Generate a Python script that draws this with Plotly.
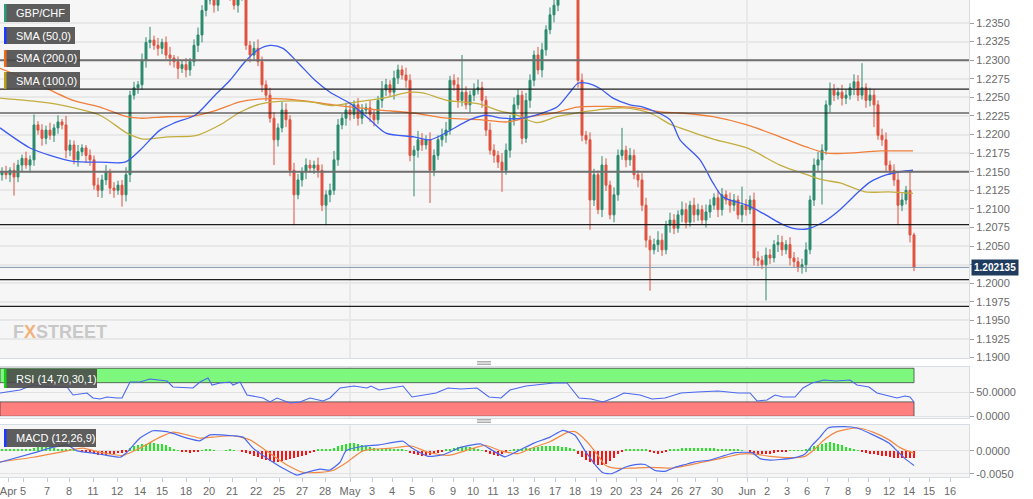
import plotly.graph_objects as go

# ---------------- data ----------------
closes = [
    1.2150, 1.2146, 1.2152, 1.2143, 1.2159, 1.2168, 1.2159, 1.2166, 1.2213, 1.2206,
    1.2195, 1.2206, 1.2199, 1.2209, 1.2217, 1.2213, 1.2179, 1.2186, 1.2166, 1.2177,
    1.2182, 1.2172, 1.2166, 1.2132, 1.2125, 1.2139, 1.2150, 1.2128, 1.2125, 1.2132,
    1.2119, 1.2146, 1.2253, 1.2263, 1.2267, 1.2300, 1.2324, 1.2327, 1.2320, 1.2316,
    1.2324, 1.2307, 1.2303, 1.2298, 1.2289, 1.2294, 1.2287, 1.2298, 1.2320, 1.2334,
    1.2367, 1.2381, 1.2394, 1.2374, 1.2388, 1.2401, 1.2394, 1.2388, 1.2374, 1.2388,
    1.2394, 1.2320, 1.2307, 1.2316, 1.2298, 1.2267, 1.2253, 1.2222, 1.2193, 1.2209,
    1.2233, 1.2220, 1.2152, 1.2119, 1.2139, 1.2150, 1.2159, 1.2155, 1.2159, 1.2152,
    1.2105, 1.2119, 1.2125, 1.2166, 1.2213, 1.2222, 1.2233, 1.2227, 1.2240, 1.2222,
    1.2233, 1.2236, 1.2227, 1.2220, 1.2246, 1.2260, 1.2267, 1.2257, 1.2276, 1.2287,
    1.2280, 1.2273, 1.2172, 1.2179, 1.2193, 1.2186, 1.2193, 1.2152, 1.2172, 1.2193,
    1.2199, 1.2206, 1.2273, 1.2267, 1.2246, 1.2257, 1.2240, 1.2253, 1.2260, 1.2263,
    1.2246, 1.2206, 1.2179, 1.2172, 1.2163, 1.2152, 1.2179, 1.2220, 1.2240, 1.2253,
    1.2195, 1.2246, 1.2273, 1.2307, 1.2287, 1.2314, 1.2341, 1.2361, 1.2374, 1.2388,
    1.2394, 1.2401, 1.2394, 1.2388, 1.2273, 1.2199, 1.2193, 1.2112, 1.2146, 1.2099,
    1.2159, 1.2132, 1.2092, 1.2119, 1.2172, 1.2179, 1.2166, 1.2172, 1.2146, 1.2139,
    1.2105, 1.2058, 1.2045, 1.2052, 1.2058, 1.2045, 1.2078, 1.2085, 1.2074, 1.2092,
    1.2099, 1.2082, 1.2105, 1.2092, 1.2099, 1.2085, 1.2096, 1.2105, 1.2115, 1.2099,
    1.2119, 1.2112, 1.2105, 1.2112, 1.2092, 1.2105, 1.2099, 1.2112, 1.2034, 1.2031,
    1.2025, 1.2038, 1.2034, 1.2052, 1.2055, 1.2045, 1.2052, 1.2034, 1.2029, 1.2021,
    1.2025, 1.2045, 1.2112, 1.2159, 1.2166, 1.2179, 1.2240, 1.2260, 1.2253, 1.2257,
    1.2249, 1.2253, 1.2263, 1.2271, 1.2253, 1.2263, 1.2246, 1.2253, 1.2240, 1.2199,
    1.2193, 1.2159, 1.2152, 1.2139, 1.2105, 1.2112, 1.2125, 1.2065, 1.202135,
]
first_open = 1.2146

upper_wick_pips = [
    6, 8, 4, 10, 7, 5, 9, 6, 14, 5,
    8, 6, 10, 5, 9, 4, 12, 7, 6, 9,
    5, 4, 8, 6, 10, 7, 9, 4, 8, 6,
    7, 10, 6, 8, 5, 9, 7, 18, 6, 10,
    5, 8, 11, 4, 7, 6, 9, 5, 8, 10,
    7, 9, 6, 8, 5, 7, 6, 10, 7, 6,
    8, 10, 6, 9, 12, 7, 6, 10, 8, 6,
    11, 9, 6, 10, 8, 6, 9, 7, 6, 10,
    8, 6, 9, 12, 8, 6, 10, 7, 6, 9,
    8, 6, 10, 7, 6, 12, 8, 6, 10, 7,
    6, 10, 8, 6, 12, 9, 6, 10, 8, 6,
    9, 11, 6, 8, 10, 50, 8, 6, 9, 11,
    8, 6, 10, 8, 6, 12, 9, 6, 10, 8,
    6, 10, 8, 6, 11, 9, 6, 10, 8, 6,
    8, 10, 6, 8, 12, 9, 6, 10, 8, 6,
    12, 9, 6, 10, 8, 30, 6, 10, 8, 6,
    9, 10, 6, 8, 12, 9, 6, 10, 8, 6,
    11, 9, 6, 10, 8, 6, 10, 8, 6, 10,
    9, 6, 10, 8, 6, 25, 8, 6, 10, 9,
    6, 10, 8, 6, 10, 9, 6, 10, 8, 6,
    8, 10, 6, 9, 11, 8, 6, 10, 8, 6,
    10, 8, 6, 10, 9, 33, 6, 10, 8, 6,
    9, 10, 6, 8, 10, 9, 6, 25, 3,
]
lower_wick_pips = [
    8, 6, 10, 25, 7, 9, 5, 10, 8, 6,
    10, 8, 6, 9, 8, 6, 11, 8, 6, 9,
    6, 10, 8, 6, 9, 10, 7, 8, 10, 6,
    16, 9, 10, 6, 8, 7, 10, 8, 6, 10,
    8, 6, 10, 8, 14, 6, 10, 8, 6, 9,
    10, 8, 6, 10, 8, 6, 10, 8, 6, 10,
    8, 6, 10, 8, 6, 10, 8, 6, 34, 9,
    6, 10, 8, 41, 6, 9, 10, 6, 8, 10,
    8, 27, 10, 6, 8, 6, 10, 8, 6, 10,
    8, 6, 10, 9, 6, 10, 8, 6, 10, 8,
    6, 10, 8, 55, 10, 8, 6, 44, 8, 6,
    9, 10, 6, 8, 10, 8, 6, 10, 8, 6,
    10, 8, 6, 10, 8, 29, 6, 10, 8, 6,
    8, 6, 10, 8, 6, 10, 8, 6, 10, 8,
    6, 10, 8, 6, 10, 8, 6, 40, 8, 6,
    10, 8, 6, 10, 8, 6, 10, 8, 6, 10,
    8, 10, 55, 6, 10, 8, 6, 10, 8, 6,
    10, 8, 6, 10, 8, 6, 10, 8, 6, 10,
    8, 6, 10, 8, 6, 10, 8, 6, 10, 8,
    6, 48, 8, 6, 10, 8, 6, 10, 8, 6,
    8, 10, 6, 8, 8, 60, 6, 10, 8, 6,
    10, 8, 6, 10, 8, 6, 10, 8, 30, 6,
    8, 10, 6, 8, 27, 8, 6, 10, 5,
]

# moving averages (candle index, price)
sma50_x = [-0.5, 7, 12, 17.75, 24.5, 30.75, 34.5, 39.5, 43.25, 48.25, 53.25, 57, 60.75, 64, 67,
           70.25, 73.75, 78.25, 82, 87, 92, 96, 103, 107, 117, 121, 125, 130, 135, 138.75, 142,
           144, 146.5, 149.5, 152.75, 157, 160.25, 167, 169.5, 174.5, 177.75, 180.25, 186.25,
           190.25, 194.5, 197.75, 201.25, 205.25, 209.5, 213.75, 217, 221.25, 224.5, 227.75]
sma50_y = [1.2209, 1.2182, 1.2172, 1.2164, 1.2163, 1.2163, 1.2179, 1.2206, 1.2216, 1.2226, 1.2253,
           1.2273, 1.2298, 1.2314, 1.2320, 1.2316, 1.2298, 1.2273, 1.2257, 1.2242, 1.2220, 1.2202,
           1.2197, 1.2193, 1.2220, 1.2226, 1.2222, 1.2222, 1.2229, 1.2237, 1.2257, 1.2269, 1.2269,
           1.2262, 1.2249, 1.2240, 1.2237, 1.2220, 1.2193, 1.2166, 1.2135, 1.2116, 1.2105, 1.2094,
           1.2081, 1.2074, 1.2073, 1.2082, 1.2099, 1.2121, 1.2136, 1.2146, 1.2150, 1.2152]
sma200_x = [-0.5, 7.75, 17.75, 24.5, 31.25, 34.5, 41.25, 47.75, 53.75, 59.5, 65.25, 70.25, 76.25,
            82.75, 94.5, 102.75, 111.25, 119.5, 126.25, 132, 138.75, 143.75, 148.75, 157, 165.25,
            169.5, 177.75, 186.25, 194.5, 201.25, 206.25, 211.25, 219.5, 227.75]
sma200_y = [1.2289, 1.2271, 1.2246, 1.2237, 1.2224, 1.2222, 1.2224, 1.2225, 1.2233, 1.2244, 1.2248,
            1.2248, 1.2245, 1.2240, 1.2233, 1.2229, 1.2222, 1.2220, 1.2217, 1.2224, 1.2230, 1.2237,
            1.2238, 1.2237, 1.2230, 1.2229, 1.2224, 1.2213, 1.2197, 1.2183, 1.2175, 1.2175, 1.2178,
            1.2178]
sma100_x = [-0.5, 9.5, 14.5, 24.5, 31.25, 35.25, 41.25, 48.75, 54.5, 59.5, 64.5, 70.25, 77, 82.75,
            88.75, 95.25, 102, 105.25, 111.25, 119.5, 123.75, 128.75, 133.75, 138.75, 144.5,
            148.75, 155.25, 162, 167, 169.5, 177.75, 186.25, 194.5, 201.25, 205.25, 209.5, 215.75,
            221.75, 227.75]
sma100_y = [1.2249, 1.2244, 1.2240, 1.2226, 1.2202, 1.2194, 1.2197, 1.2199, 1.2213, 1.2230, 1.2241,
            1.2245, 1.2244, 1.2239, 1.2244, 1.2249, 1.2257, 1.2256, 1.2246, 1.2241, 1.2233, 1.2226,
            1.2216, 1.2224, 1.2230, 1.2233, 1.2236, 1.2229, 1.2214, 1.2209, 1.2194, 1.2182, 1.2159,
            1.2146, 1.2139, 1.2135, 1.2123, 1.2123, 1.2121]

# RSI (14)
rsi_x = [-0.5, 4.5, 7.75, 12, 16.25, 17.75, 21.25, 22.75, 24.5, 26.25,
         28.75, 30, 32, 34.5, 37, 41.25, 42.75, 47.75, 49.5, 51.5,
         52.5, 54.5, 57, 57.75, 59.5, 61.25, 65.25, 67, 68.75, 72,
         74.5, 77, 80.25, 82, 84.5, 88, 91.25, 92.25, 94.25, 97.25,
         100.25, 102.5, 105.5, 108.5, 111.5, 114.75, 118.75, 121.75, 124.75, 127,
         131, 135, 138, 141.25, 144.25, 147.25, 150.25, 153.5, 155.5, 159.5,
         162.5, 165.75, 169.75, 173.75, 179, 184, 187, 188.75, 191.25, 193.25,
         195.25, 198.25, 200.25, 202.5, 205.5, 208.5, 212, 213.75, 216.75, 218.75,
         221.75, 223.75, 225.75, 227, 228]
rsi_y = [48.5, 54.8, 65.2, 61.0, 61.0, 44.4, 48.5, 38.1, 36.0, 40.2,
         38.1, 38.1, 71.5, 71.5, 77.7, 73.5, 61.0, 59.0, 71.5, 79.8,
         65.2, 69.4, 71.5, 65.2, 71.5, 44.4, 38.1, 29.8, 38.1, 27.7,
         29.8, 38.1, 31.9, 38.1, 59.0, 63.1, 59.0, 63.1, 54.8, 59.0,
         63.1, 40.2, 44.4, 48.5, 59.0, 56.9, 59.0, 40.2, 38.1, 54.8,
         63.1, 67.3, 69.4, 69.4, 38.1, 36.0, 29.8, 40.2, 48.5, 44.4,
         36.0, 38.1, 48.5, 50.6, 52.7, 48.5, 48.5, 31.9, 34.0, 44.4,
         40.2, 40.2, 59.0, 69.4, 75.6, 73.5, 75.6, 65.2, 61.0, 48.5,
         42.3, 38.1, 42.3, 40.2, 29.8]
rsi_levels = [30, 70]

# MACD (12,26,9)
macd_x = [-0.5, 7.75, 12, 16.25, 18.75, 22.75, 26.25, 29.5, 31.25, 34.5,
          37.75, 41.25, 46.25, 49.5, 52, 57.75, 60.25, 62.75, 66.25, 70.25,
          73.75, 76.25, 79.5, 82, 84.5, 86, 90.25, 94.25, 100.25, 102.5,
          106.5, 110.5, 114.75, 119.75, 122.75, 125.75, 129, 133, 137, 140.25,
          143.25, 145.75, 147, 148.25, 150.25, 152.5, 153.75, 155.75, 158.25, 160.75,
          163.25, 165.75, 168.25, 170.75, 173.25, 177, 180.75, 183.25, 187.5, 189.5,
          191.5, 194.5, 198.25, 200.75, 202.5, 204.5, 206.5, 210.5, 213.75, 217.75,
          221.75, 223.75, 225.75, 228]
macd_y = [-0.0025, -0.0005, 0.0006, 0.0013, 0.0, -0.0005, -0.0010, -0.0014, -0.0003, 0.0028,
          0.0044, 0.0042, 0.0028, 0.0022, 0.0035, 0.0033, 0.0030, 0.0006, -0.0016, -0.0038,
          -0.0053, -0.0047, -0.0040, -0.0042, -0.0025, 0.0, 0.0010, 0.0013, 0.0021, 0.0006,
          -0.0012, -0.0008, 0.0008, 0.0015, 0.0, -0.0013, 0.0, 0.0017, 0.0030, 0.0045,
          0.0034, 0.0, -0.0015, -0.0030, -0.0048, -0.0050, -0.0045, -0.0036, -0.0030, -0.0030,
          -0.0043, -0.0045, -0.0036, -0.0030, -0.0024, -0.0020, -0.0010, -0.0004, -0.0004, -0.0017,
          -0.0020, -0.0019, -0.0015, -0.0007, 0.0012, 0.0030, 0.0050, 0.0053, 0.0050, 0.0035,
          0.0017, 0.0, -0.0017, -0.0032]
signal_x = [-0.5, 7.75, 16.25, 20.25, 24.5, 30.25, 34.5, 39.5, 42.75, 46.25,
            49.5, 52.75, 57.75, 62, 66.25, 71.25, 75.25, 79.5, 82.75, 86.25,
            90.25, 97.25, 102.5, 106.5, 111.5, 115.75, 120.75, 124.75, 129, 133,
            137, 141.25, 143.25, 146.25, 149.25, 150.75, 153.25, 157, 162, 167,
            169.5, 174.5, 179.5, 184.5, 188.25, 192, 197, 200.75, 203.25, 205,
            208.5, 213.75, 217.75, 221.75, 224.75, 228]
signal_y = [-0.0024, -0.0014, 0.0, 0.0006, -0.0003, -0.0010, 0.0006, 0.0030, 0.0041, 0.0035,
            0.0028, 0.0030, 0.0033, 0.0024, -0.0001, -0.0031, -0.0047, -0.0047, -0.0043, -0.0025,
            0.0, 0.0006, 0.0010, -0.0003, -0.0010, 0.0, 0.0012, 0.0, -0.0006, 0.0008,
            0.0020, 0.0040, 0.0042, 0.0020, -0.0013, -0.0031, -0.0038, -0.0038, -0.0036, -0.0038,
            -0.0035, -0.0026, -0.0017, -0.0007, -0.0007, -0.0012, -0.0015, -0.0012, 0.0004, 0.0020,
            0.0041, 0.0050, 0.0041, 0.0024, 0.0006, -0.0005]
# histogram per candle, in units of 0.0001
macd_hist_e4 = [
    3, 3, 2, 2, 3, 3, 4, 5, 7, 8,
    9, 9, 8, 7, 5, 4, 3, 2, 1, 0,
    -1, -2, -4, -6, -9, -10, -9, -8, -6, -5,
    -4, -1, 6, 10, 13, 15, 16, 17, 17, 16,
    14, 12, 8, 5, 1, -2, -3, -4, -3, -2,
    1, 3, 3, 1, 0, 0, 1, 2, 1, 0,
    -2, -4, -8, -11, -14, -17, -20, -23, -25, -24,
    -22, -20, -18, -16, -14, -12, -9, -5, -1, 3,
    4, 3, 3, 6, 10, 13, 16, 18, 17, 15,
    12, 10, 8, 6, 5, 4, 4, 3, 3, 3,
    3, 1, -5, -8, -10, -11, -10, -9, -7, -4,
    -2, 2, 4, 6, 8, 9, 9, 8, 6, 4,
    1, -3, -7, -9, -11, -7, -3, 1, 2, 3,
    4, 6, 7, 8, 9, 10, 10, 11, 11, 10,
    9, 9, 7, 4, -8, -13, -19, -25, -28, -30,
    -30, -28, -22, -15, -8, -2, 2, 4, 5, 5,
    4, 3, -2, -5, -6, -5, -2, 3, 5, 5,
    6, 6, 6, 7, 7, 7, 6, 6, 6, 5,
    5, 4, 4, 3, 2, 1, 0, -1, -5, -7,
    -8, -8, -6, -4, -3, -2, -1, 1, 1, 1,
    1, 3, 7, 10, 13, 15, 17, 19, 18, 15,
    12, 9, 7, 4, 1, -2, -4, -6, -8, -9,
    -11, -12, -13, -15, -15, -15, -15, -15, -16,
]

# support / resistance levels
levels_major = [1.2300, 1.2150]
levels_minor = [1.2261, 1.2229, 1.2079, 1.2005, 1.1969]

price_ticks = [1.1900, 1.1925, 1.1950, 1.1975, 1.2000, 1.2025, 1.2050, 1.2075, 1.2100,
               1.2125, 1.2150, 1.2175, 1.2200, 1.2225, 1.2250, 1.2275, 1.2300, 1.2325, 1.2350]
rsi_ticks = [0, 50]
macd_ticks = [-0.0050, 0.0]

date_labels = ["Apr", "5", "7", "8", "11", "12", "14", "15", "18", "20", "21", "22", "25", "27", "28",
               "May", "3", "4", "5", "6", "9", "10", "11", "13", "16", "17", "18", "19", "20", "23",
               "24", "26", "27", "30", "Jun", "2", "3", "6", "7", "8", "9", "12", "14", "15", "16"]
date_pos = [1.6, 5.25, 11.25, 16.75, 22.75, 28.75, 34.5, 40, 46, 51.75, 57.5, 63.5, 69.25, 75, 80.75,
            87, 92.5, 97.5, 102.5, 107.5, 112.75, 117.75, 122.75, 127.75, 133, 138.25, 143.25, 148.5,
            153.5, 158.5, 163.5, 168.75, 173.25, 178.75, 186.25, 191.25, 196.25, 201.25, 206.25,
            211.5, 216.5, 221.75, 226.75, 231.75, 237]
month_pos = [87, 186.25]

# ---------------- derived candles ----------------
opens = [first_open] + closes[:-1]
highs = [max(o, c) + u * 0.0001 for o, c, u in zip(opens, closes, upper_wick_pips)]
lows = [min(o, c) - l * 0.0001 for o, c, l in zip(opens, closes, lower_wick_pips)]
idx = list(range(len(closes)))
hist = [v * 0.0001 for v in macd_hist_e4]
last_price = closes[-1]

# ---------------- styling ----------------
UP = "#2b8a6c"
DOWN = "#e0523f"
BLUE = "#3b5bf2"
ORANGE = "#f07f3a"
OLIVE = "#c3ad3e"
FONT = "Liberation Sans"
PLOT_W, PLOT_H = 969.0, 477.0


def px(x):
    return x / PLOT_W


def py(y):
    return 1 - y / PLOT_H


fig = go.Figure()

fig.add_trace(go.Candlestick(
    x=idx, open=opens, high=highs, low=lows, close=closes,
    increasing=dict(line=dict(color=UP, width=1), fillcolor=UP),
    decreasing=dict(line=dict(color=DOWN, width=1), fillcolor=DOWN),
    whiskerwidth=0, xaxis="x", yaxis="y", hoverinfo="skip", name="GBP/CHF"))

for xs, ys, col in [(sma200_x, sma200_y, ORANGE), (sma100_x, sma100_y, OLIVE), (sma50_x, sma50_y, BLUE)]:
    fig.add_trace(go.Scatter(x=xs, y=ys, mode="lines", xaxis="x", yaxis="y",
                             line=dict(color=col, width=1.3, shape="spline", smoothing=0.8),
                             hoverinfo="skip"))

fig.add_trace(go.Scatter(x=rsi_x, y=rsi_y, mode="lines", xaxis="x2", yaxis="y2",
                         line=dict(color="#4a68ee", width=1.1), hoverinfo="skip"))

fig.add_trace(go.Bar(x=idx, y=hist, xaxis="x3", yaxis="y3", width=0.72,
                     marker=dict(color=["#22e622" if v >= 0 else "#ff1010" for v in hist], line=dict(width=0)),
                     hoverinfo="skip"))
fig.add_trace(go.Scatter(x=signal_x, y=signal_y, mode="lines", xaxis="x3", yaxis="y3",
                         line=dict(color="#f28a45", width=1.2, shape="spline", smoothing=0.6),
                         hoverinfo="skip"))
fig.add_trace(go.Scatter(x=macd_x, y=macd_y, mode="lines", xaxis="x3", yaxis="y3",
                         line=dict(color="#4a68ee", width=1.2, shape="spline", smoothing=0.5),
                         hoverinfo="skip"))

shapes = []
# level lines
for lv in levels_major:
    shapes.append(dict(type="line", xref="x domain", yref="y", x0=0, x1=1, y0=lv, y1=lv,
                       line=dict(color="#6f6f6f", width=2)))
for lv in levels_minor:
    shapes.append(dict(type="line", xref="x domain", yref="y", x0=0, x1=1, y0=lv, y1=lv,
                       line=dict(color="#1e1e1e", width=1.2)))
# current price line
shapes.append(dict(type="line", xref="x domain", yref="y", x0=0, x1=1, y0=last_price, y1=last_price,
                   line=dict(color="#8596ac", width=1)))
# month separators
for mp in month_pos:
    for yr in ["y domain", "y2 domain", "y3 domain"]:
        shapes.append(dict(type="line", xref="x", yref=yr, x0=mp, x1=mp, y0=0, y1=1,
                           line=dict(color="#e4e4e4", width=1.5), layer="below"))
# RSI bands
shapes.append(dict(type="rect", xref="x2", yref="y2", x0=-0.5, x1=idx[-1], y0=rsi_levels[1], y1=100,
                   fillcolor="#7ef77e", line=dict(color="rgba(60,60,60,0.75)", width=1), layer="below"))
shapes.append(dict(type="rect", xref="x2", yref="y2", x0=-0.5, x1=idx[-1], y0=0, y1=rsi_levels[0],
                   fillcolor="#ff7f7f", line=dict(color="rgba(60,60,60,0.75)", width=1), layer="below"))
# panel splitter handles
for yy in [363, 421]:
    for dy in (-1.2, 1.2):
        shapes.append(dict(type="line", xref="paper", yref="paper", x0=px(477), x1=px(491),
                           y0=py(yy + dy), y1=py(yy + dy), line=dict(color="#9a9a9a", width=1.2)))

annotations = []
# legend labels
boxes = [
    ("GBP/CHF", 4, 70, 4, 22, "#2a9d78"),
    ("SMA (50,0)", 4, 75, 27, 44, "#1b3cff"),
    ("SMA (200,0)", 4, 80, 50, 67, "#f06a1c"),
    ("SMA (100,0)", 4, 80, 72, 89, "#b8a01e"),
    ("RSI (14,70,30,1)", 4, 97, 369, 388, "#17d017"),
    ("MACD (12,26,9)", 4, 96, 429, 447, "#1b3cff"),
]
for label, x0, x1, y0, y1, col in boxes:
    shapes.append(dict(type="rect", xref="paper", yref="paper", x0=px(x0), x1=px(x1), y0=py(y1), y1=py(y0),
                       fillcolor="rgba(72,72,72,0.88)", line=dict(width=0)))
    shapes.append(dict(type="rect", xref="paper", yref="paper", x0=px(x0), x1=px(x0 + 2.5), y0=py(y1), y1=py(y0),
                       fillcolor=col, line=dict(width=0)))
    annotations.append(dict(xref="paper", yref="paper", x=px(14), y=py((y0 + y1) / 2), xanchor="left",
                            yanchor="middle", showarrow=False, text=label,
                            font=dict(family=FONT, size=11, color="white")))

# watermark
annotations.append(dict(xref="paper", yref="paper", x=px(11), y=py(332), xanchor="left", yanchor="middle",
                        showarrow=False,
                        text="<b>F<span style='color:#f2b27c'>X</span>STREET</b>",
                        font=dict(family=FONT, size=18, color="#c8c8c8")))
# last price tag (it hides the axis label underneath it, as in the original)
annotations.append(dict(xref="paper", yref="y", x=1, y=last_price, xanchor="left", yanchor="middle",
                        xshift=2, showarrow=False, text=f"<b>{last_price:.6f}</b>",
                        bgcolor="#1f3c5f", borderpad=2,
                        font=dict(family=FONT, size=10, color="white")))

# axis labels: the one covered by the price tag is left blank
price_ticktext = ["" if abs(v - last_price) < 0.0008 else f"{v:.4f}" for v in price_ticks]

axis_line = dict(showline=True, linecolor="#d7dde5", linewidth=1, mirror=True, zeroline=False)
ytick_style = dict(side="right", ticks="outside", ticklen=4, tickcolor="#a0a0a0",
                   tickfont=dict(family=FONT, size=11, color="#6a6a6a"))

fig.update_layout(
    width=1033, height=499,
    margin=dict(l=0, r=64, t=0, b=22),
    paper_bgcolor="white", plot_bgcolor="#f6f6f6",
    showlegend=False, bargap=0,
    shapes=shapes, annotations=annotations,
    xaxis=dict(domain=[0, 1], anchor="y", range=[-0.5, 241.75], showticklabels=False, showgrid=False,
               rangeslider=dict(visible=False), **axis_line),
    xaxis2=dict(domain=[0, 1], anchor="y2", matches="x", showticklabels=False, showgrid=False, **axis_line),
    xaxis3=dict(domain=[0, 1], anchor="y3", matches="x", showgrid=False,
                tickmode="array", tickvals=date_pos, ticktext=date_labels,
                ticks="outside", ticklen=4, tickcolor="#c8c8c8", ticklabeloverflow="allow",
                tickfont=dict(family=FONT, size=11, color="#6a6a6a"), **axis_line),
    yaxis=dict(domain=[1 - 358 / PLOT_H, 1], anchor="x", range=[1.18995, 1.2381],
               tickmode="array", tickvals=price_ticks, ticktext=price_ticktext,
               showgrid=True, gridcolor="#e8e8e8", gridwidth=1.5, **ytick_style, **axis_line),
    yaxis2=dict(domain=[1 - 418.3 / PLOT_H, 1 - 366.7 / PLOT_H], anchor="x2", range=[-4.2, 103.3],
                tickmode="array", tickvals=rsi_ticks, ticktext=[f"{v:.4f}" for v in rsi_ticks],
                showgrid=True, gridcolor="#e2e2e2", **ytick_style, **axis_line),
    yaxis3=dict(domain=[0, 1 - 425 / PLOT_H], anchor="x3", range=[-0.00573, 0.00566],
                tickmode="array", tickvals=macd_ticks, ticktext=[f"{v:.4f}" for v in macd_ticks],
                showgrid=True, gridcolor="#e2e2e2", **ytick_style, **axis_line),
)

# remove the browser's default 8px page margin so the chart sits at the window's top-left corner
fig.write_html("out.html", config={"displayModeBar": False},
               post_script="document.body.style.margin='0';document.body.style.overflow='hidden';")
